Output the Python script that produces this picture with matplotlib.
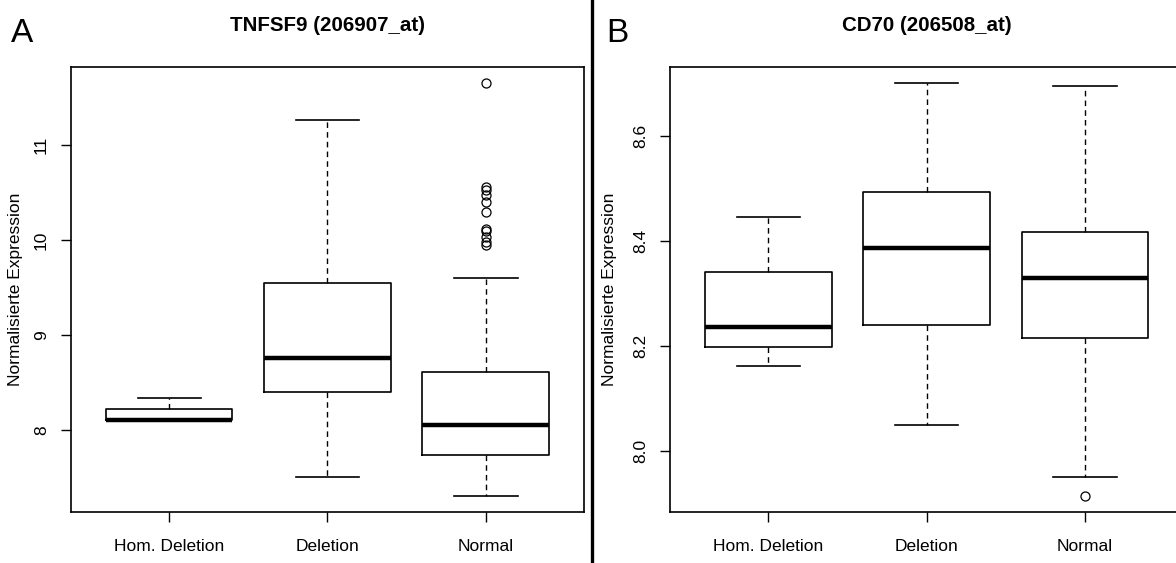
import matplotlib
matplotlib.use("Agg")
import matplotlib.pyplot as plt
from matplotlib.lines import Line2D

plt.rcParams['font.family'] = ['Liberation Sans', 'DejaVu Sans']

categories = ["Hom. Deletion", "Deletion", "Normal"]

# Panel A: TNFSF9 (206907_at)
a_title = "TNFSF9 (206907_at)"
a_whislo = [8.095, 7.505, 7.31]
a_q1 = [8.11, 8.40, 7.74]
a_med = [8.11, 8.76, 8.055]
a_q3 = [8.221, 9.55, 8.61]
a_whishi = [8.333, 11.26, 9.60]
a_fliers = [[], [], [11.65, 10.56, 10.53, 10.47, 10.40, 10.30, 10.12, 10.10, 10.03, 9.98, 9.95]]
a_yticks = [8, 9, 10, 11]
a_ylim = (7.137, 11.821)

# Panel B: CD70 (206508_at)
b_title = "CD70 (206508_at)"
b_whislo = [8.162, 8.05, 7.95]
b_q1 = [8.198, 8.24, 8.215]
b_med = [8.236, 8.387, 8.33]
b_q3 = [8.341, 8.493, 8.417]
b_whishi = [8.446, 8.70, 8.695]
b_fliers = [[], [], [7.914]]
b_yticks = [8.0, 8.2, 8.4, 8.6]
b_ytick_labels = ["8.0", "8.2", "8.4", "8.6"]
b_ylim = (7.884, 8.731)

ylabel = "Normalisierte Expression"

fig = plt.figure(figsize=(11.76, 5.63), dpi=100)

W, H = 1176.0, 563.0
ax_w = 513 / W
ax_h = 445 / H
ax_bottom = 1 - 512 / H
axA = fig.add_axes([71 / W, ax_bottom, ax_w, ax_h])
axB = fig.add_axes([670 / W, ax_bottom, ax_w, ax_h])


def draw(ax, title, whislo, q1, med, q3, whishi, fliers, yticks, yticklabels, ylim, ylab_x):
    stats = []
    for i in range(len(categories)):
        stats.append(dict(whislo=whislo[i], q1=q1[i], med=med[i], q3=q3[i],
                          whishi=whishi[i], fliers=fliers[i], label=categories[i]))
    ax.bxp(stats, positions=[1, 2, 3], widths=0.8, capwidths=0.4,
           showfliers=True,
           boxprops=dict(color="black", linewidth=1.2),
           medianprops=dict(color="black", linewidth=3.2, solid_capstyle="butt"),
           whiskerprops=dict(color="black", linewidth=1.0, linestyle=(0, (4, 3))),
           capprops=dict(color="black", linewidth=1.2),
           flierprops=dict(marker="o", markerfacecolor="none", markeredgecolor="black",
                           markersize=6.5, markeredgewidth=0.9, linestyle="none"))
    ax.set_xlim(0.38, 3.62)
    ax.set_ylim(*ylim)
    ax.set_yticks(yticks)
    ax.set_yticklabels(yticklabels, rotation=90, va="center")
    ax.set_xticks([1, 2, 3])
    ax.set_xticklabels(categories)
    ax.tick_params(axis="both", direction="out", length=7, width=1.0, labelsize=12.5, color="black")
    ax.tick_params(axis="x", pad=12.5)
    ax.tick_params(axis="y", pad=9)
    for s in ax.spines.values():
        s.set_linewidth(1.2)
    ax.set_ylabel(ylabel, fontsize=12.5)
    ax.yaxis.set_label_coords(ylab_x, 0.5)
    ax.text(0.5, 1.094, title, transform=ax.transAxes, ha="center", va="center",
            fontsize=14.8, fontweight="bold")


draw(axA, a_title, a_whislo, a_q1, a_med, a_q3, a_whishi, a_fliers, a_yticks,
     [str(t) for t in a_yticks], a_ylim, -0.094)
draw(axB, b_title, b_whislo, b_q1, b_med, b_q3, b_whishi, b_fliers, b_yticks,
     b_ytick_labels, b_ylim, -0.103)

fig.text(22.5 / W, 1 - 33 / H, "A", fontsize=24, ha="center", va="center")
fig.text(617 / W, 1 - 33 / H, "B", fontsize=24, ha="center", va="center")

fig.add_artist(Line2D([592 / W, 592 / W], [0, 1], color="black", linewidth=2.4,
                      transform=fig.transFigure))

fig.savefig("out.png", dpi=100)
